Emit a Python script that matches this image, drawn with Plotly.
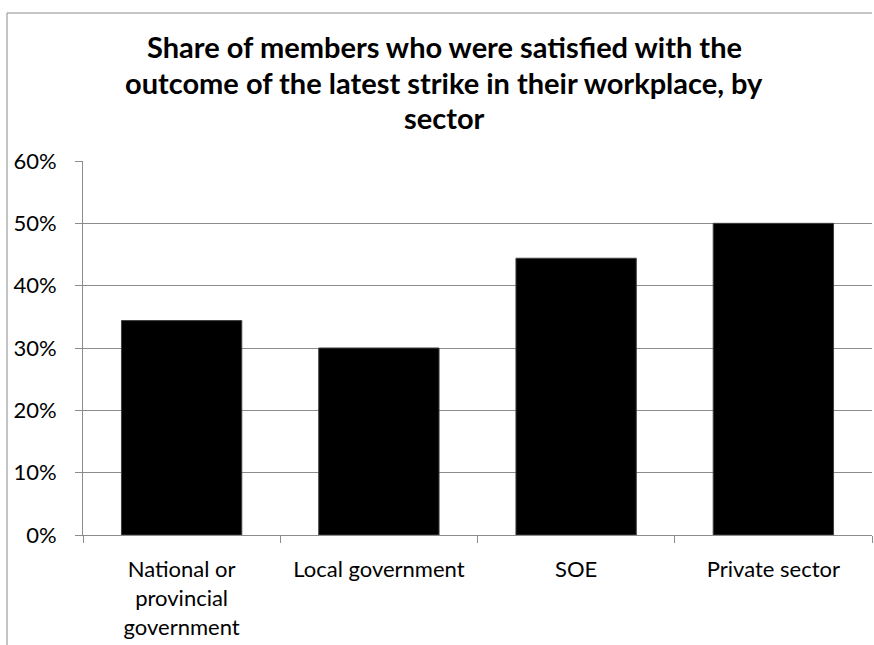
import plotly.graph_objects as go

# Sectors and share of satisfied members
sectors = ["National or<br>provincial<br>government", "Local government", "SOE", "Private sector"]
satisfied_share = [0.344, 0.300, 0.444, 0.500]
y_ticks = [0, 0.1, 0.2, 0.3, 0.4, 0.5, 0.6]
y_tick_labels = ["0%", "10%", "20%", "30%", "40%", "50%", "60%"]

title_lines = [
    "Share of members who were satisfied with the",
    "outcome of the latest strike in their workplace, by",
    "sector",
]

W, H = 874, 645
L, R, T, B = 83, 2, 161, 110


def px_x(px):
    return (px - L) / (W - L - R)


def px_y(py):
    return (H - B - py) / (H - T - B)


fig = go.Figure(go.Bar(
    x=sectors,
    y=satisfied_share,
    width=0.61,
    marker=dict(color="#000000", line=dict(color="#404040", width=1)),
))

grid = "#8c8c8c"
font_family = "Lato, 'Open Sans', sans-serif"

# Title drawn line by line for tight line spacing
title_annotations = [
    dict(text=f"<b>{line}</b>", xref="paper", yref="paper",
         x=px_x(444), y=px_y(47 + 35 * i),
         xanchor="center", yanchor="middle", showarrow=False,
         font=dict(family=font_family, size=29, color="#000000"))
    for i, line in enumerate(title_lines)
]

fig.update_layout(
    width=W, height=H,
    margin=dict(l=L, r=R, t=T, b=B),
    plot_bgcolor="white", paper_bgcolor="white",
    showlegend=False,
    font=dict(family=font_family, color="#000000", size=23),
    xaxis=dict(
        showline=True, linecolor=grid, linewidth=1, automargin=False,
        ticks="outside", tickson="boundaries", ticklen=7, tickcolor=grid,
        showgrid=False, tickfont=dict(size=22), ticklabelstandoff=15,
    ),
    yaxis=dict(
        range=[0, 0.6], tickvals=y_ticks, ticktext=y_tick_labels,
        showline=True, linecolor=grid, linewidth=1, automargin=False,
        showgrid=True, gridcolor=grid, gridwidth=1,
        ticks="outside", ticklen=7, tickcolor=grid,
        ticklabelstandoff=14, zeroline=False, tickfont=dict(size=22),
    ),
    annotations=title_annotations,
)

# Outer chart frame (left and top edges)
fig.add_shape(type="line", xref="paper", yref="paper",
              x0=px_x(7), x1=px_x(7), y0=px_y(13), y1=px_y(H + 5),
              line=dict(color=grid, width=1))
fig.add_shape(type="line", xref="paper", yref="paper",
              x0=px_x(7), x1=px_x(872), y0=px_y(13), y1=px_y(13),
              line=dict(color=grid, width=1))

fig.write_html("out.html")
